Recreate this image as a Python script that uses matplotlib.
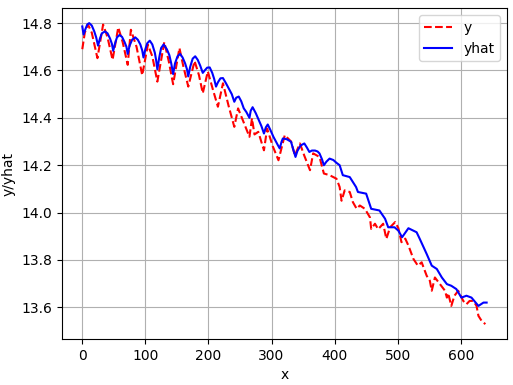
import matplotlib
matplotlib.use("Agg")
import matplotlib.pyplot as plt

# valeurs (points clés)
x_y = [0, 4, 9, 15, 24, 33, 40, 48, 57, 64, 72, 77, 86, 95, 104, 111, 119,
       130, 137, 144, 154, 160, 168, 178, 185, 191, 199, 207, 215, 223, 232,
       241, 247, 256, 265, 269, 273, 279, 288, 293, 302, 311, 321, 331, 337,
       345, 352, 361, 366, 376, 383, 392, 403, 408, 411, 416, 424, 429, 435,
       440, 448, 456, 458, 464, 469, 477, 482, 488, 496, 501, 506, 512, 517,
       525, 532, 538, 546, 551, 554, 559, 567, 575, 578, 580, 585, 590, 596,
       604, 609, 614, 620, 625, 628, 633, 639]
y = [14.69, 14.76, 14.794, 14.76, 14.652, 14.794, 14.74, 14.645, 14.782, 14.72,
     14.624, 14.772, 14.70, 14.58, 14.709, 14.66, 14.553,
     14.72, 14.64, 14.542, 14.695, 14.62, 14.532, 14.64, 14.58, 14.504, 14.596,
     14.52, 14.447, 14.546, 14.45,
     14.362, 14.44, 14.38, 14.32, 14.398, 14.33, 14.341, 14.263, 14.355, 14.28,
     14.221, 14.327, 14.30, 14.242,
     14.292, 14.24, 14.179, 14.25, 14.235, 14.165, 14.158, 14.143, 14.108,
     14.05, 14.094, 14.087, 14.044, 14.016,
     14.03, 14.016, 13.98, 13.931, 13.953, 13.93, 13.953, 13.889, 13.938,
     13.96, 13.935, 13.875, 13.89, 13.861,
     13.804, 13.776, 13.79, 13.733, 13.712, 13.67, 13.726, 13.698, 13.67,
     13.641, 13.66, 13.606, 13.649, 13.67,
     13.627, 13.613, 13.627, 13.627, 13.606, 13.564, 13.543, 13.529]

x_hat = [0, 2, 5, 8, 11, 15, 19, 22, 25, 28, 31, 36, 40, 44, 47, 49, 52, 55,
         59, 63, 67, 70, 72, 75, 79, 84, 88, 92, 95, 97, 100, 103, 107, 111,
         115, 117, 119, 122, 125, 129, 134, 138, 141, 144, 147, 151, 155, 159,
         163, 166, 168, 171, 175, 179, 183, 187, 191, 194, 198, 202, 206, 209,
         212, 215, 219, 223, 228, 233, 237, 241, 244, 248, 252, 256, 260, 265,
         267, 270, 275, 280, 284, 288, 291, 294, 298, 303, 307, 310, 313, 316,
         318, 324, 331, 334, 338, 341, 346, 352, 356, 360, 364, 369, 373, 376,
         380, 383, 387, 392, 398, 403, 408, 413, 424, 434, 437,
         450, 458, 471, 480, 485, 495, 501, 507, 517, 530, 535, 546, 554, 562,
         570, 578, 585, 593, 601, 609, 617, 628, 636, 641]
yhat = [14.786, 14.752, 14.775, 14.795, 14.80, 14.79, 14.765, 14.74, 14.705,
        14.735, 14.757, 14.765, 14.757, 14.735, 14.712, 14.683, 14.715, 14.74,
        14.75, 14.742, 14.72, 14.70, 14.67, 14.705, 14.73, 14.74, 14.73, 14.71,
        14.685, 14.655, 14.69, 14.715, 14.726, 14.71,
        14.675, 14.645, 14.605, 14.655, 14.695, 14.71, 14.69, 14.665, 14.63,
        14.585, 14.63, 14.66, 14.67, 14.655,
        14.63, 14.605, 14.575, 14.615, 14.65, 14.66, 14.645, 14.62, 14.59,
        14.60, 14.612, 14.613, 14.59, 14.565,
        14.532, 14.55, 14.567, 14.568, 14.545, 14.52, 14.50, 14.468, 14.485,
        14.49, 14.47, 14.44, 14.425, 14.40,
        14.43, 14.445, 14.42, 14.39, 14.365, 14.334, 14.36, 14.372, 14.35,
        14.32, 14.30, 14.285, 14.271, 14.30,
        14.313, 14.31, 14.299, 14.27, 14.235, 14.26, 14.283, 14.292, 14.275,
        14.256, 14.262, 14.262, 14.258, 14.25,
        14.225, 14.20, 14.215, 14.228, 14.222, 14.21, 14.20, 14.158, 14.15,
        14.108, 14.087,
        14.08, 14.016, 14.009, 13.974, 13.938, 13.938, 13.924, 13.896, 13.934,
        13.917, 13.889, 13.825, 13.776, 13.762,
        13.726, 13.698, 13.691, 13.677, 13.641, 13.649, 13.641, 13.606, 13.62,
        13.62]

fig = plt.figure(figsize=(5.13, 3.85), dpi=100)
ax = fig.add_axes([0.121, 0.119, 0.867, 0.860])
ax.plot(x_y, y, 'r--', label='y')
ax.plot(x_hat, yhat, 'b-', label='yhat')
ax.set_xlabel('x')
ax.set_ylabel('y/yhat')
ax.legend(loc='upper right')
ax.grid()
fig.savefig('out.png', dpi=100)
